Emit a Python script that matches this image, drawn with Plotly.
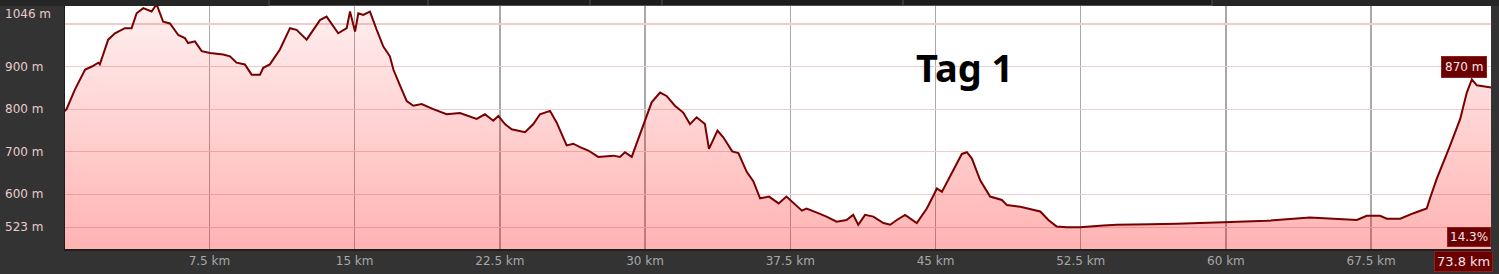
import plotly.graph_objects as go

# distance along route (km) and elevation (m)
dist_km = [0.0, 0.12, 0.55, 1.08, 1.43, 1.76, 1.84, 2.27, 2.62, 3.13, 3.48, 3.74, 4.08, 4.51, 4.77,
           5.11, 5.46, 5.89, 6.23, 6.40, 6.75, 7.10, 7.53, 8.21, 8.56, 8.90, 9.33, 9.68, 10.11, 10.28,
           10.62, 11.14, 11.66, 12.0, 12.52, 12.86, 13.21, 13.55, 14.15, 14.59, 14.76, 15.02, 15.19,
           15.44, 15.79, 16.14, 16.48, 16.82, 17.0, 17.34, 17.69, 18.03, 18.46, 19.06, 19.75, 20.44,
           21.3, 21.73, 22.16, 22.42, 22.76, 23.11, 23.8, 24.23, 24.57, 25.09, 25.43, 25.95, 26.29,
           26.64, 27.07, 27.58, 28.36, 28.7, 28.96, 29.31, 29.65, 29.99, 30.34, 30.77, 31.11, 31.54,
           31.97, 32.32, 32.66, 33.09, 33.3, 33.74, 34.04, 34.5, 34.82, 35.25, 35.59, 35.94, 36.4,
           36.9, 37.3, 38.1, 38.34, 38.94, 39.37, 39.89, 40.4, 40.75, 41.01, 41.36, 41.79, 42.31,
           42.66, 43.0, 43.43, 44.03, 44.55, 44.9, 45.07, 45.33, 45.93, 46.36, 46.62, 46.88, 47.31,
           47.82, 48.43, 48.69, 49.38, 50.06, 50.41, 50.83, 51.25, 51.78, 52.47, 53.67, 54.36, 56.08,
           57.46, 59.87, 62.11, 64.34, 65.55, 66.76, 67.27, 67.96, 68.31, 69.0, 69.69, 70.21, 70.37,
           70.54, 70.89, 71.58, 72.1, 72.44, 72.70, 72.96, 73.3, 73.8]
elev_m = [795, 800, 846, 893, 900, 909, 905, 963, 978, 990, 990, 1025, 1037, 1029, 1046,
          1005, 1001, 974, 967, 955, 959, 936, 932, 928, 924, 909, 905, 881, 881, 897,
          905, 940, 990, 986, 963, 986, 1009, 1017, 978, 990, 1029, 982, 1025,
          1021, 1029, 986, 947, 924, 893, 856, 819, 808, 812, 800, 788, 791,
          777, 788, 773, 784, 765, 753, 746, 765, 788, 796, 769, 715, 719,
          711, 703, 688, 691, 688, 699, 688, 730, 769, 816, 839, 831, 808,
          792, 765, 781, 765, 707, 750, 734, 701, 697, 653, 631, 591, 595,
          579, 595, 562, 567, 556, 548, 536, 540, 552, 529, 552, 548, 533,
          529, 540, 552, 533, 567, 598, 614, 606, 660, 695, 699, 684, 633,
          595, 587, 575, 571, 564, 560, 540, 525, 523, 523, 527, 529, 530,
          531, 535, 538, 546, 543, 540, 550, 550, 543, 543, 556, 564, 567,
          591, 637, 715, 777, 839, 870, 856, 853, 850]

x_ticks = [7.5, 15, 22.5, 30, 37.5, 45, 52.5, 60, 67.5]
x_tick_text = ["7.5 km", "15 km", "22.5 km", "30 km", "37.5 km", "45 km", "52.5 km", "60 km", "67.5 km"]
y_grid = [523, 600, 700, 800, 900, 1000]
y_labels = ["523 m", "600 m", "700 m", "800 m", "900 m", "1046 m"]
y_label_pos = [523, 600, 700, 800, 900, 1023]

title_text = "Tag 1"
end_elev_label = "870 m"
grade_label = "14.3%"
total_label = "73.8 km"

Y_MIN, Y_MAX = 472, 1042
X_MIN, X_MAX = 0.04, 73.69

fig = go.Figure()
fig.add_trace(go.Scatter(
    x=dist_km, y=elev_m, mode="lines",
    line=dict(color="#780000", width=2),
    fill="tozeroy",
    fillgradient=dict(type="vertical", start=Y_MIN, stop=1046,
                      colorscale=[[0, "rgba(255,0,0,0.30)"], [1, "rgba(255,0,0,0.06)"]]),
    hoverinfo="skip", showlegend=False,
))
fig.add_trace(go.Scatter(
    x=[dist_km[-1]], y=[elev_m[-1] + 10], mode="markers",
    marker=dict(symbol="square-open", color="#cc2020", size=8, line=dict(width=1.5, color="#cc2020")),
    cliponaxis=False, hoverinfo="skip", showlegend=False,
))

annotations = []
for v, t in zip(y_label_pos, y_labels):
    annotations.append(dict(xref="paper", yref="y", x=-62 / 1426, y=v, text=t,
                            xanchor="left", yanchor="middle", showarrow=False,
                            font=dict(family="DejaVu Sans", size=12, color="#e8cccc")))
annotations.append(dict(xref="x", yref="y", x=46.5, y=900, text=f"<b>{title_text}</b>",
                        showarrow=False, xanchor="center", yanchor="middle",
                        font=dict(family="Noto Sans", size=38, color="#000000")))
box_font = dict(family="DejaVu Sans", size=12, color="#f4e6e6")
annotations.append(dict(xref="paper", yref="y", x=1 - 4 / 1426, y=900, text=end_elev_label,
                        showarrow=False, xanchor="right", yanchor="middle",
                        bgcolor="#6a0000", bordercolor="#8a2020", borderwidth=1, borderpad=3,
                        font=box_font))
annotations.append(dict(xref="paper", yref="paper", x=1, y=0.01, text=grade_label,
                        showarrow=False, xanchor="right", yanchor="bottom",
                        bgcolor="#6a0000", bordercolor="#8a2020", borderwidth=1, borderpad=2,
                        font=box_font))
annotations.append(dict(xref="paper", yref="paper", x=1.0014, y=-0.008, text=total_label,
                        showarrow=False, xanchor="right", yanchor="top",
                        bgcolor="#6a0000", bordercolor="#8a2020", borderwidth=1, borderpad=2,
                        font=dict(family="DejaVu Sans", size=13, color="#f4e6e6")))

shapes = [
    dict(type="rect", xref="paper", yref="paper", x0=-1, x1=2, y0=1, y1=1.1,
         fillcolor="#262626", line=dict(width=0), layer="below"),
    dict(type="rect", xref="paper", yref="paper", x0=(269 - 65) / 1426, x1=(1212 - 65) / 1426,
         y0=1.002, y1=1.03, fillcolor="#1c1c1c", line=dict(color="#505050", width=1)),
]
for px in (428, 590, 662, 903):
    shapes.append(dict(type="line", xref="paper", yref="paper", x0=(px - 65) / 1426,
                       x1=(px - 65) / 1426, y0=1.002, y1=1.03,
                       line=dict(color="#505050", width=1)))

fig.update_layout(
    width=1499, height=274,
    margin=dict(l=65, r=8, t=6, b=23),
    paper_bgcolor="#333333", plot_bgcolor="#ffffff",
    annotations=annotations, shapes=shapes,
    xaxis=dict(range=[X_MIN, X_MAX], tickvals=x_ticks, ticktext=x_tick_text,
               showgrid=True, gridcolor="#a9a9a9", gridwidth=1.5, zeroline=False,
               ticks="", tickfont=dict(family="DejaVu Sans", size=12, color="#a8a8a8"),
               showline=True, linecolor="#1e1e1e", linewidth=2, fixedrange=True),
    yaxis=dict(range=[Y_MIN, Y_MAX], tickvals=y_grid, showticklabels=False,
               showgrid=True, gridcolor="#f1cccc", gridwidth=1.2, zeroline=False, ticks="",
               showline=True, linecolor="#1e1e1e", linewidth=1, fixedrange=True),
)

fig.write_html("out.html", config={"displayModeBar": False, "staticPlot": True})
